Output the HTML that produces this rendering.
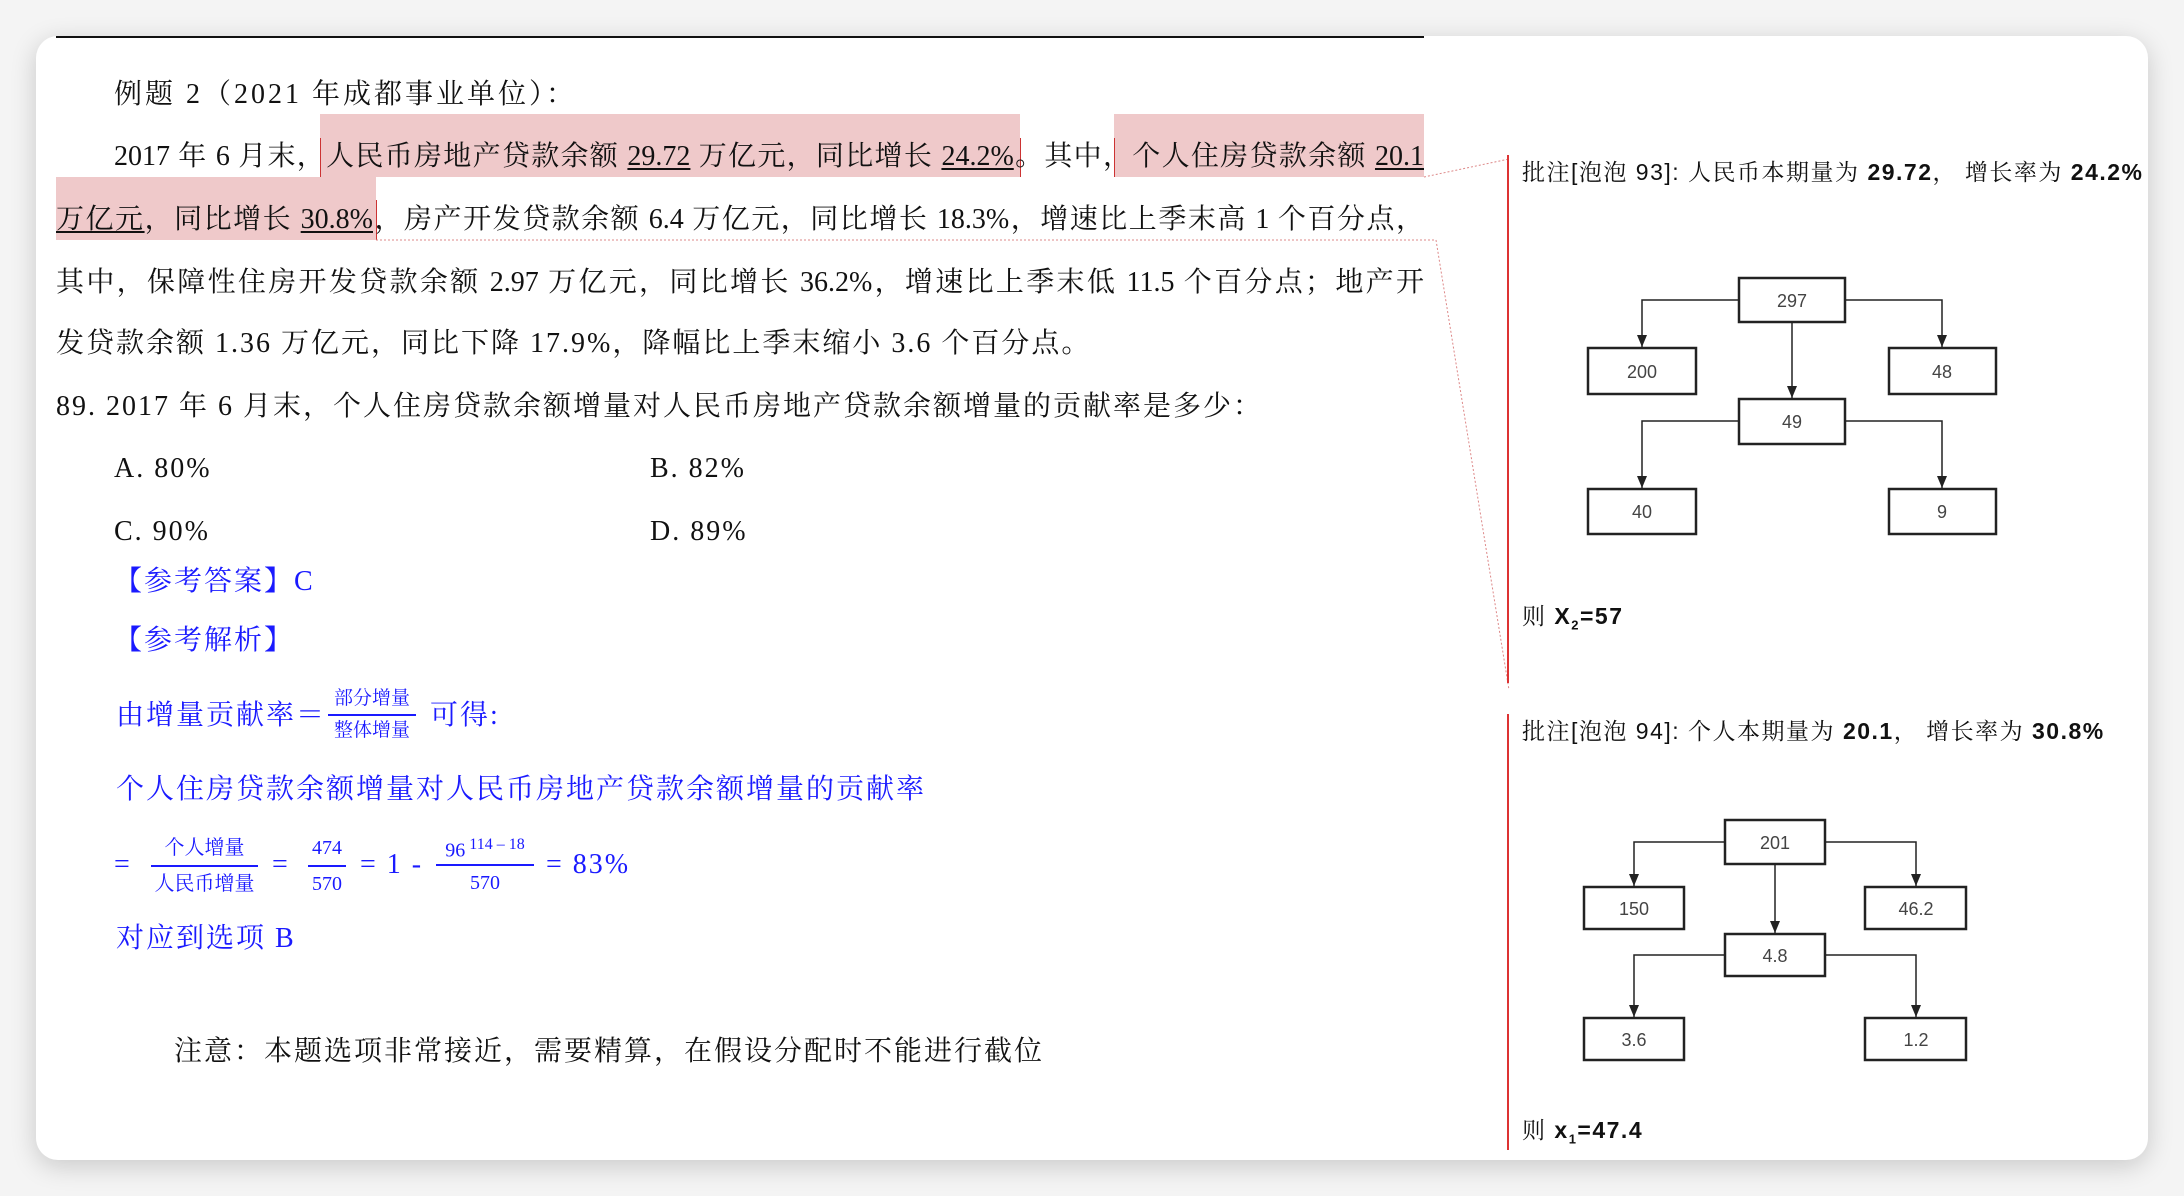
<!DOCTYPE html>
<html><head><meta charset="utf-8">
<style>
html,body{margin:0;padding:0;}
body{width:2184px;height:1196px;background:#f4f4f4;position:relative;overflow:hidden;font-family:"Liberation Serif","Noto Serif CJK SC",serif;}
.card{position:absolute;left:36px;top:36px;width:2112px;height:1124px;background:#fff;border-radius:22px;box-shadow:0 6px 26px rgba(0,0,0,0.18);}
.t{position:absolute;white-space:nowrap;font-size:28px;line-height:40px;color:#111;letter-spacing:2px;}
.j{text-align:justify;text-align-last:justify;white-space:normal;letter-spacing:0;}
.b{color:#1a1aff;}
.hl{position:absolute;background:#efc9ca;}
u{text-decoration:underline;text-underline-offset:3px;}
.c{position:absolute;white-space:nowrap;font-family:"Liberation Sans","Noto Serif CJK SC",sans-serif;font-size:23px;line-height:30px;color:#111;letter-spacing:1.5px;}
.frac{position:absolute;text-align:center;color:#1a1aff;font-size:20px;line-height:26px;}
.frac .ln{height:2px;background:#1a1aff;margin:4px 0;}
</style></head><body>
<div class="card"></div>
<div style="position:absolute;left:56px;top:36px;width:1368px;height:2px;background:#111"></div>

<div class="hl" style="left:320px;top:114px;width:700px;height:63px"></div>
<div class="hl" style="left:1114px;top:114px;width:310px;height:63px"></div>
<div class="hl" style="left:56px;top:177px;width:320px;height:63px"></div>
<div style="position:absolute;left:320px;top:138px;width:1px;height:39px;background:#c33"></div>
<div style="position:absolute;left:1020px;top:138px;width:1px;height:39px;background:#c33"></div>
<div style="position:absolute;left:1114px;top:138px;width:1px;height:39px;background:#c33"></div>
<div style="position:absolute;left:376px;top:200px;width:1px;height:40px;background:#c33"></div>

<svg width="2184" height="1196" style="position:absolute;left:0;top:0">
<polyline points="1424,177 1509,159" fill="none" stroke="#d88" stroke-width="1" stroke-dasharray="2,2"/>
<polyline points="376,240 1436,240 1509,690" fill="none" stroke="#d88" stroke-width="1" stroke-dasharray="2,2"/>
<line x1="1508" y1="155" x2="1508" y2="683" stroke="#d33" stroke-width="2"/>
<line x1="1508" y1="714" x2="1508" y2="1150" stroke="#d33" stroke-width="2"/>
<defs>
<marker id="ar" viewBox="0 0 10 12" markerWidth="10" markerHeight="12" refX="5" refY="12" orient="0" markerUnits="userSpaceOnUse"><path d="M0,0 L10,0 L5,12 z" fill="#222"/></marker></defs>
<g fill="none" stroke="#222" stroke-width="1.5">
<polyline points="1739,300 1642,300 1642,347" marker-end="url(#ar)"/>
<polyline points="1845,300 1942,300 1942,347" marker-end="url(#ar)"/>
<polyline points="1792,322 1792,398" marker-end="url(#ar)"/>
<polyline points="1739,421 1642,421 1642,488" marker-end="url(#ar)"/>
<polyline points="1845,421 1942,421 1942,488" marker-end="url(#ar)"/>
<polyline points="1725,842 1634,842 1634,886" marker-end="url(#ar)"/>
<polyline points="1825,842 1916,842 1916,886" marker-end="url(#ar)"/>
<polyline points="1775,864 1775,933" marker-end="url(#ar)"/>
<polyline points="1725,955 1634,955 1634,1017" marker-end="url(#ar)"/>
<polyline points="1825,955 1916,955 1916,1017" marker-end="url(#ar)"/>
</g>
<g fill="#fff" stroke="#222" stroke-width="2.5">
<rect x="1739" y="278" width="106" height="44"/>
<rect x="1588" y="348" width="108" height="46"/>
<rect x="1889" y="348" width="107" height="46"/>
<rect x="1739" y="399" width="106" height="45"/>
<rect x="1588" y="489" width="108" height="45"/>
<rect x="1889" y="489" width="107" height="45"/>
<rect x="1725" y="820" width="100" height="44"/>
<rect x="1584" y="887" width="100" height="42"/>
<rect x="1865" y="887" width="101" height="42"/>
<rect x="1725" y="934" width="100" height="42"/>
<rect x="1584" y="1018" width="100" height="42"/>
<rect x="1865" y="1018" width="101" height="42"/>
</g>
<g font-family="Liberation Sans,sans-serif" font-size="18" fill="#444" text-anchor="middle">
<text x="1792" y="307">297</text><text x="1642" y="378">200</text><text x="1942" y="378">48</text>
<text x="1792" y="428">49</text><text x="1642" y="518">40</text><text x="1942" y="518">9</text>
<text x="1775" y="849">201</text><text x="1634" y="915">150</text><text x="1916" y="915">46.2</text>
<text x="1775" y="962">4.8</text><text x="1634" y="1046">3.6</text><text x="1916" y="1046">1.2</text>
</g>
</svg>

<div class="t" style="left:114px;top:75px;letter-spacing:3px">例题 2（2021 年成都事业单位）：</div>
<div class="t j" style="left:114px;top:137px;width:1310px">2017 年 6 月末，人民币房地产贷款余额 <u>29.72</u> 万亿元，同比增长 <u>24.2%</u>。其中，个人住房贷款余额 <u>20.1</u></div>
<div class="t j" style="left:56px;top:200px;width:1368px"><u>万亿元</u>，同比增长 <u>30.8%</u>，房产开发贷款余额 6.4 万亿元，同比增长 18.3%，增速比上季末高 1 个百分点，</div>
<div class="t j" style="left:56px;top:263px;width:1368px">其中，保障性住房开发贷款余额 2.97 万亿元，同比增长 36.2%，增速比上季末低 11.5 个百分点；地产开</div>
<div class="t" style="left:56px;top:324px">发贷款余额 1.36 万亿元，同比下降 17.9%，降幅比上季末缩小 3.6 个百分点。</div>
<div class="t" style="left:56px;top:387px">89. 2017 年 6 月末，个人住房贷款余额增量对人民币房地产贷款余额增量的贡献率是多少：</div>
<div class="t" style="left:114px;top:449px">A. 80%</div>
<div class="t" style="left:650px;top:449px">B. 82%</div>
<div class="t" style="left:114px;top:512px">C. 90%</div>
<div class="t" style="left:650px;top:512px">D. 89%</div>
<div class="t b" style="left:114px;top:562px">【参考答案】C</div>
<div class="t b" style="left:114px;top:621px">【参考解析】</div>
<div class="t b" style="left:116px;top:696px">由增量贡献率＝</div>
<div class="frac" style="left:328px;top:688px;width:88px;font-size:19px;line-height:22px">部分增量<div class="ln"></div>整体增量</div>
<div class="t b" style="left:430px;top:696px">可得:</div>
<div class="t b" style="left:116px;top:770px">个人住房贷款余额增量对人民币房地产贷款余额增量的贡献率</div>
<div class="t b" style="left:114px;top:845px">=</div>
<div class="frac" style="left:151px;top:835px;width:107px">个人增量<div class="ln"></div>人民币增量</div>
<div class="t b" style="left:272px;top:845px">=</div>
<div class="frac" style="left:308px;top:835px;width:38px">474<div class="ln"></div>570</div>
<div class="t b" style="left:360px;top:845px">= 1 -</div>
<div class="frac" style="left:436px;top:832px;width:98px"><span style="font-size:20px">96</span><sup style="font-size:16px"> 114 – 18</sup><div class="ln" style="margin-top:0"></div>570</div>
<div class="t b" style="left:546px;top:845px">= 83%</div>
<div class="t b" style="left:116px;top:919px">对应到选项 B</div>
<div class="t" style="left:174px;top:1032px">注意：本题选项非常接近，需要精算，在假设分配时不能进行截位</div>

<div class="c" style="left:1522px;top:157px">批注[泡泡 93]:  人民币本期量为 <b>29.72</b>， 增长率为 <b>24.2%</b></div>
<div class="c" style="left:1522px;top:601px">则 <b>X<sub style="font-size:13px">2</sub>=57</b></div>
<div class="c" style="left:1522px;top:716px">批注[泡泡 94]:  个人本期量为 <b>20.1</b>， 增长率为 <b>30.8%</b></div>
<div class="c" style="left:1522px;top:1115px">则 <b>x<sub style="font-size:13px">1</sub>=47.4</b></div>
</body></html>
